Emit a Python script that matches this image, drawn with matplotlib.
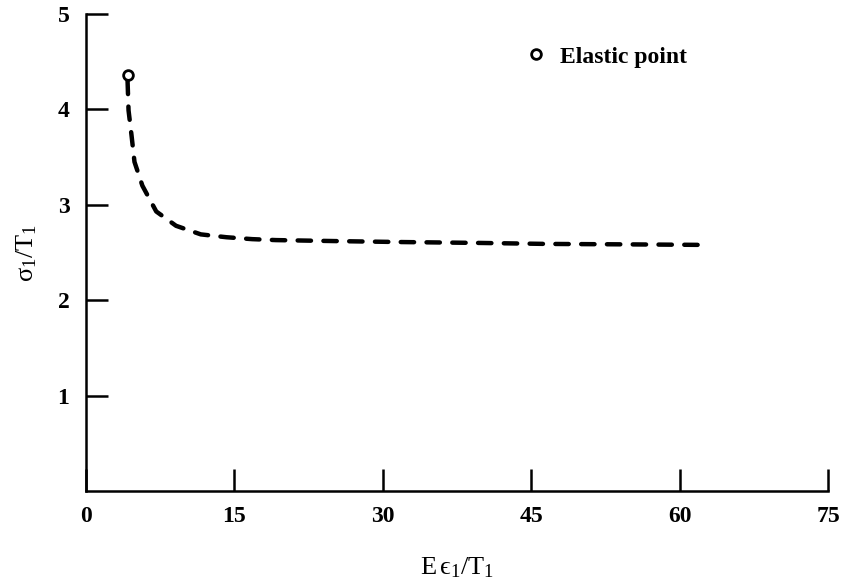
import matplotlib
matplotlib.use("Agg")
import matplotlib.pyplot as plt
from matplotlib.lines import Line2D

# Data
strain = [4.2, 4.3, 4.6, 4.9, 5.7, 7.1, 9.1, 11.6, 14.2, 16.8, 19.2, 25.0, 31.5, 40.0, 46.5, 55.0, 61.9]
stress = [4.30, 3.99, 3.73, 3.45, 3.20, 2.93, 2.78, 2.69, 2.66, 2.64, 2.63, 2.62, 2.61, 2.60, 2.59, 2.585, 2.58]
elastic_x = [4.2]
elastic_y = [4.36]
xticks = [0, 15, 30, 45, 60, 75]
yticks = [1, 2, 3, 4, 5]

plt.rcParams['font.family'] = ['Liberation Serif', 'DejaVu Serif']
plt.rcParams['mathtext.fontset'] = 'custom'
plt.rcParams['mathtext.rm'] = 'Liberation Serif'
plt.rcParams['mathtext.it'] = 'Liberation Serif'
plt.rcParams['mathtext.bf'] = 'Liberation Serif:bold'

fig = plt.figure(figsize=(8.43, 5.82), dpi=100)
ax = fig.add_axes([86/843, 91/582, (828-86)/843, (491-14)/582])

ax.plot(strain, stress, color='black', lw=3.2, linestyle=(0, (3.0, 2.8)),
        dash_capstyle='round', solid_capstyle='round')
ax.plot(elastic_x, elastic_y, linestyle='none', marker='o', markersize=7,
        markerfacecolor='white', markeredgecolor='black', markeredgewidth=2, zorder=5)

ax.set_xlim(0, 75)
ax.set_ylim(0, 5)
ax.set_xticks(xticks)
ax.set_yticks(yticks)
ax.spines['top'].set_visible(False)
ax.spines['right'].set_visible(False)
for s in ['left', 'bottom']:
    ax.spines[s].set_linewidth(1.8)
ax.tick_params(axis='both', direction='in', length=16, width=1.8, labelsize=17, pad=11)
ax.tick_params(axis='y', pad=12)
for lab in ax.get_xticklabels() + ax.get_yticklabels():
    lab.set_fontweight('bold')

ax.set_xlabel(r'$\mathregular{E\,ϵ_1/T_1}$', fontsize=19, labelpad=20)
ax.set_ylabel(r'$\mathregular{σ_1/T_1}$', fontsize=19, labelpad=13)

handle = Line2D([], [], linestyle='none', marker='o', markersize=7,
                markerfacecolor='white', markeredgecolor='black', markeredgewidth=2)
leg = ax.legend([handle], ['Elastic point'], loc='center left',
                bbox_to_anchor=(0.565, 0.91), frameon=False, handlelength=0.8,
                handletextpad=0.6, prop={'weight': 'bold', 'size': 17})

fig.savefig('out.png', dpi=100)
